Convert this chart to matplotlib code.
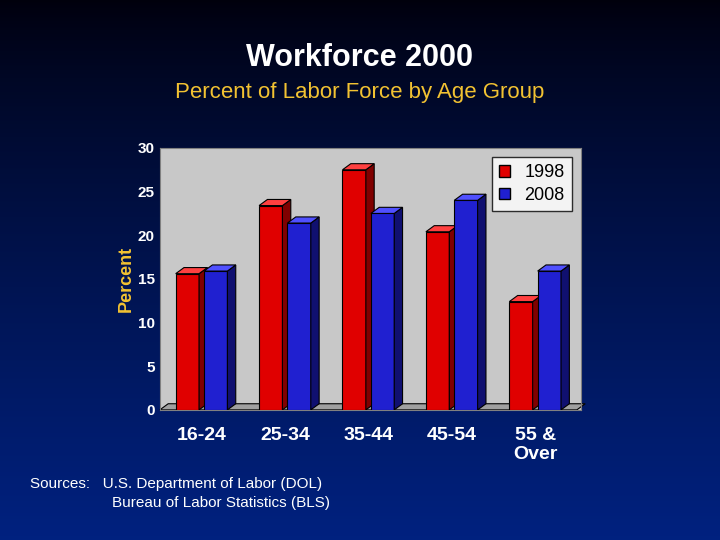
import numpy as np
import matplotlib
matplotlib.use("Agg")
import matplotlib.pyplot as plt
from matplotlib.patches import Polygon, Rectangle

plt.rcParams['font.family'] = ['Liberation Sans', 'DejaVu Sans']

# Daten
groups = ["16-24", "25-34", "35-44", "45-54", "55 &\nOver"]
y1998 = [15.6, 23.4, 27.5, 20.4, 12.4]
y2008 = [15.9, 21.4, 22.5, 24.0, 15.9]

fig = plt.figure(figsize=(7.2, 5.4), dpi=100)

# Hintergrund-Verlauf
bg = fig.add_axes([0, 0, 1, 1])
grad = np.linspace(0, 1, 256).reshape(-1, 1)
top = np.array([0.0, 0.0, 0.05])
bot = np.array([0.0, 0.13, 0.5])
img = top + (bot - top) * grad[..., None] ** 0.8
bg.imshow(img, aspect="auto", extent=[0, 1, 0, 1], origin="upper")
bg.axis("off")

fig.text(0.5, 0.893, "Workforce 2000", color="white", fontsize=22, fontweight="bold",
         ha="center", va="center")
fig.text(0.5, 0.829, "Percent of Labor Force by Age Group", color="#f2c232", fontsize=16,
         ha="center", va="center")

ax = fig.add_axes([0.222, 0.241, 0.585, 0.485])
ax.set_facecolor("#c8c8c8")
dx, dy = 0.1, 0.7
w = 0.28


def bar3d(x, h, front, side, topc):
    ax.add_patch(Rectangle((x, 0), w, h, facecolor=front, edgecolor="black", lw=0.8, zorder=3))
    ax.add_patch(Polygon([(x + w, 0), (x + w + dx, dy), (x + w + dx, h + dy), (x + w, h)],
                         facecolor=side, edgecolor="black", lw=0.8, zorder=3))
    ax.add_patch(Polygon([(x, h), (x + dx, h + dy), (x + w + dx, h + dy), (x + w, h)],
                         facecolor=topc, edgecolor="black", lw=0.8, zorder=3))


xs = np.arange(len(groups))
for i in xs:
    bar3d(i - w - 0.03, y1998[i], "#e00000", "#800000", "#ff4040")
    bar3d(i + 0.03, y2008[i], "#2020d0", "#101070", "#5050ff")

# Boden
ax.add_patch(Polygon([(-0.5, 0), (-0.5 + dx, dy), (4.5 + dx, dy), (4.5, 0)],
                     facecolor="#a0a0a0", edgecolor="black", lw=0.8, zorder=2, clip_on=False))

ax.set_xlim(-0.5, 4.55)
ax.set_ylim(0, 30)
ax.set_yticks(range(0, 31, 5))
ax.set_xticks(xs)
ax.set_xticklabels(groups, color="white", fontsize=14, fontweight="bold")
ax.tick_params(axis="y", colors="white", labelsize=11, length=0)
ax.tick_params(axis="x", length=0, pad=12)
for t in ax.get_yticklabels():
    t.set_fontweight("bold")
for s in ax.spines.values():
    s.set_color("#808080")
ax.set_ylabel("Percent", color="#f2c232", fontsize=13, fontweight="bold", labelpad=2)

leg = ax.legend(handles=[Rectangle((0, 0), 1, 1, fc="#e00000", ec="black"),
                         Rectangle((0, 0), 1, 1, fc="#2020d0", ec="black")],
                labels=["1998", "2008"], loc="upper right", fontsize=13,
                fancybox=False, edgecolor="black", handlelength=0.6, handleheight=0.6,
                borderaxespad=0.5, labelspacing=0.3)
leg.get_frame().set_facecolor("white")

fig.text(0.042, 0.097, "Sources:   U.S. Department of Labor (DOL)", color="white", fontsize=11)
fig.text(0.155, 0.062, "Bureau of Labor Statistics (BLS)", color="white", fontsize=11)

fig.savefig("out.png", dpi=100)
